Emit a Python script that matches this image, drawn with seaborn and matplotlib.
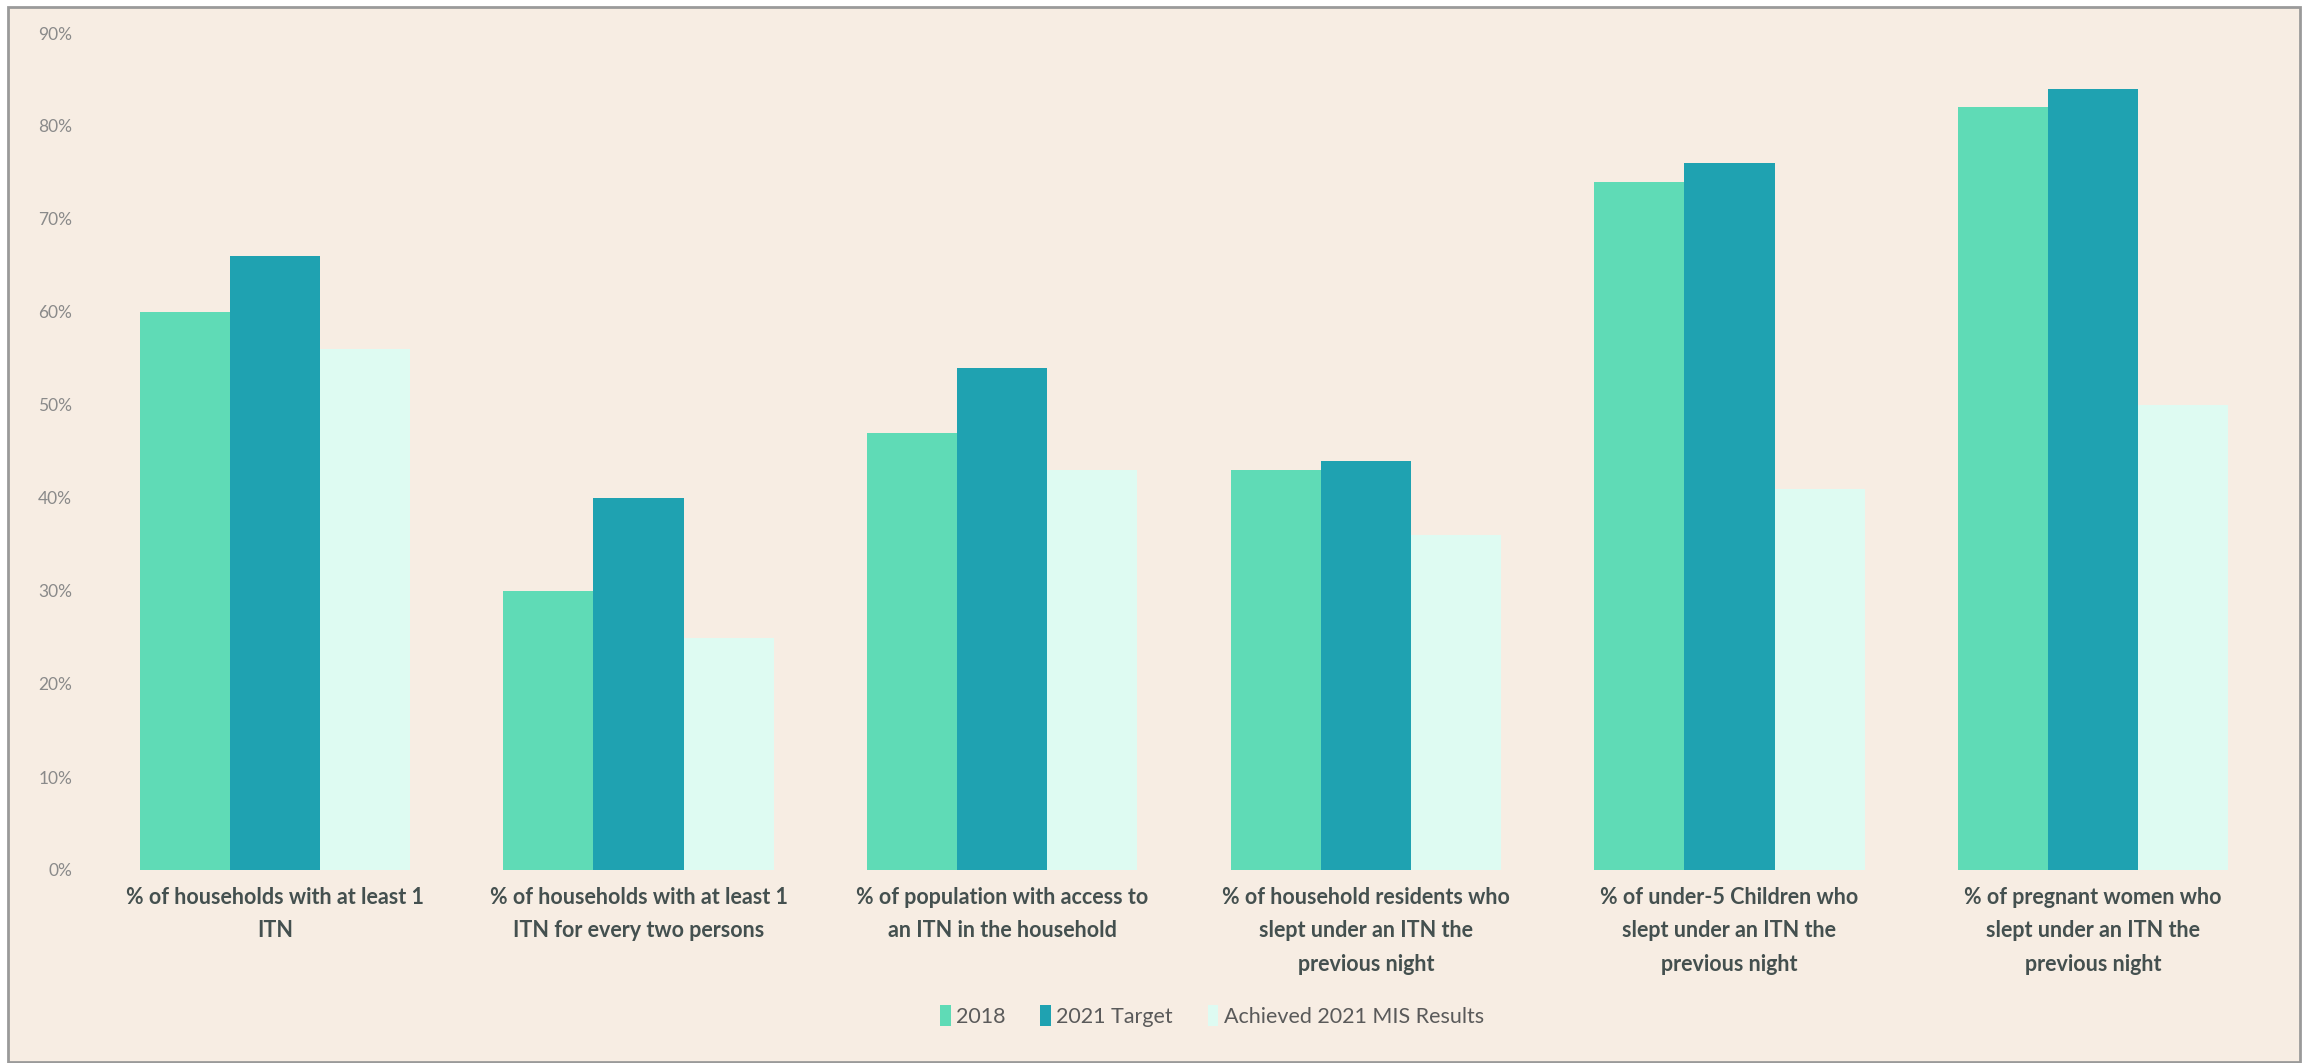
import matplotlib
matplotlib.use("Agg")
import matplotlib.pyplot as plt
import seaborn as sns
import pandas as pd
from matplotlib.ticker import PercentFormatter, MultipleLocator
from matplotlib.patches import Rectangle, Patch

categories = [
    "% of households with at least 1\nITN",
    "% of households with at least 1\nITN for every two persons",
    "% of population with access to\nan ITN in the household",
    "% of household residents who\nslept under an ITN the\nprevious night",
    "% of under-5 Children who\nslept under an ITN the\nprevious night",
    "% of pregnant women who\nslept under an ITN the\nprevious night",
]
series_names = ["2018", "2021 Target", "Achieved 2021 MIS Results"]
values_2018 = [0.60, 0.30, 0.47, 0.43, 0.74, 0.82]
values_2021_target = [0.66, 0.40, 0.54, 0.44, 0.76, 0.84]
values_achieved_2021 = [0.56, 0.25, 0.43, 0.36, 0.41, 0.50]
colors = ["#5FDBB6", "#1FA2B1", "#DEFBF2"]

rows = []
for name, vals in zip(series_names, [values_2018, values_2021_target, values_achieved_2021]):
    for c, v in zip(categories, vals):
        rows.append({"Indicator": c, "Series": name, "Value": v})
df = pd.DataFrame(rows)

sns.set_theme(style="white")
plt.rcParams["font.family"] = ["Lato", "DejaVu Sans"]

BG = "#F7EDE3"
W, H = 2306, 1063
fig = plt.figure(figsize=(W / 100, H / 100), dpi=100, facecolor="white")
fig.patches.append(Rectangle((8 / W, 1 / H), (2300 - 8) / W, (1056 - 1) / H,
                             transform=fig.transFigure, facecolor=BG,
                             edgecolor="#9A9A9A", linewidth=2.0, zorder=-10))

ax = fig.add_axes([93 / W, 1 - 870 / H, (2275 - 93) / W, (870 - 33) / H])
ax.set_facecolor(BG)
ax.patch.set_alpha(0)

sns.barplot(data=df, x="Indicator", y="Value", hue="Series", order=categories,
            hue_order=series_names, palette=colors, width=0.743, gap=0,
            linewidth=0, saturation=1, ax=ax, legend=False)

ax.set_ylim(0, 0.9)
ax.set_xlim(-0.5, len(categories) - 0.5)
ax.yaxis.set_major_locator(MultipleLocator(0.1))
ax.yaxis.set_major_formatter(PercentFormatter(1.0, decimals=0))
for s in ax.spines.values():
    s.set_visible(False)
ax.grid(False)
ax.set_xlabel("")
ax.set_ylabel("")
ax.tick_params(axis="y", length=0, pad=15, labelsize=12.5, labelcolor="#8A8A8A")
ax.tick_params(axis="x", length=0, pad=12)
for lbl in ax.get_xticklabels():
    lbl.set_fontsize(15.5)
    lbl.set_fontweight("bold")
    lbl.set_color("#44504F")
    lbl.set_linespacing(1.75)
    lbl.set_horizontalalignment("center")

handles = [Patch(facecolor=c, edgecolor="none") for c in colors]
fig.legend(handles, series_names, loc="center", bbox_to_anchor=(1212 / W, 1 - 1016 / H),
           ncol=3, frameon=False, handlelength=0.5, handleheight=1.1,
           handletextpad=0.25, columnspacing=1.6, fontsize=15.5,
           labelcolor="#5A5A5A")

fig.savefig("out.png", dpi=100, facecolor="white")
